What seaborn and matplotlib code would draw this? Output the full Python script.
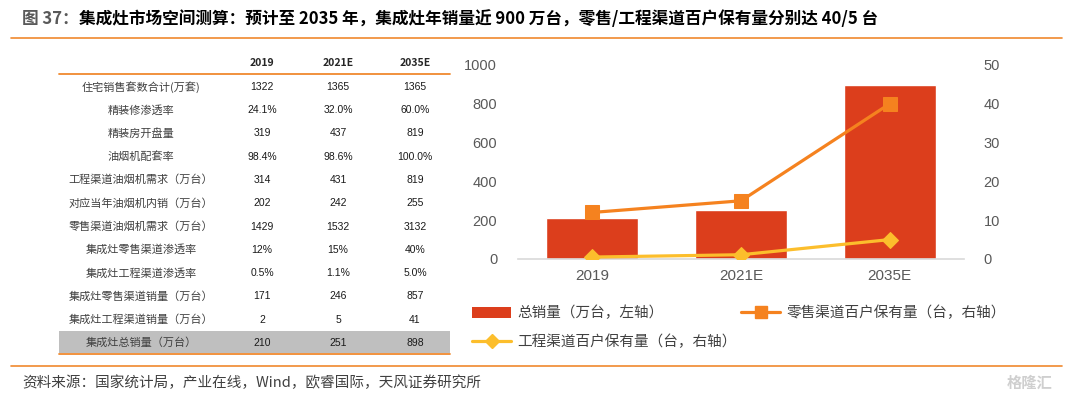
import numpy as np
import pandas as pd
import seaborn as sns
import matplotlib.pyplot as plt
from matplotlib.lines import Line2D
from matplotlib.patches import Patch, Rectangle

#%% Data

years = ['2019', '2021E', '2035E']
total_sales = [210, 251, 898]          # 总销量（万台，左轴）
retail_per100 = [12, 15, 40]           # 零售渠道百户保有量（台，右轴）
project_per100 = [0.5, 1.1, 5.0]       # 工程渠道百户保有量（台，右轴）

row_labels = ['住宅销售套数合计(万套)', '精装修渗透率', '精装房开盘量', '油烟机配套率',
              '工程渠道油烟机需求（万台）', '对应当年油烟机内销（万台）', '零售渠道油烟机需求（万台）',
              '集成灶零售渠道渗透率', '集成灶工程渠道渗透率', '集成灶零售渠道销量（万台）',
              '集成灶工程渠道销量（万台）', '集成灶总销量（万台）']
col_2019 = ['1322', '24.1%', '319', '98.4%', '314', '202', '1429', '12%', '0.5%', '171', '2', '210']
col_2021 = ['1365', '32.0%', '437', '98.6%', '431', '242', '1532', '15%', '1.1%', '246', '5', '251']
col_2035 = ['1365', '60.0%', '819', '100.0%', '819', '255', '3132', '40%', '5.0%', '857', '41', '898']

title_prefix = '图 37：'
title_main = '集成灶市场空间测算：预计至 2035 年，集成灶年销量近 900 万台，零售/工程渠道百户保有量分别达 40/5 台'
source_text = '资料来源：国家统计局，产业在线，Wind，欧睿国际，天风证券研究所'

legend_labels = ['总销量（万台，左轴）', '零售渠道百户保有量（台，右轴）', '工程渠道百户保有量（台，右轴）']

RED = '#DC3E1C'
ORANGE = '#F5821F'
YELLOW = '#FCBE2C'
LINE_ORANGE = '#F0892E'
GRAY_TXT = '#595959'

#%% Style

sns.set_theme(style='white')
plt.rcParams['font.family'] = ['Noto Sans CJK SC', 'DejaVu Sans']

W, H = 1071, 399
fig = plt.figure(figsize=(W / 100, H / 100), dpi=100)


def fx(x):
    return x / W


def fy(y):
    return 1 - y / H


def hline(y, x0, x1, color=LINE_ORANGE, lw=1.2):
    fig.add_artist(Line2D([fx(x0), fx(x1)], [fy(y), fy(y)], color=color, lw=lw,
                          transform=fig.transFigure))


#%% Title and frame lines

t1 = fig.text(fx(22), fy(19), title_prefix, fontsize=12, fontweight='bold', color=GRAY_TXT,
              va='center', ha='left')
renderer = fig.canvas.get_renderer()
bb = t1.get_window_extent(renderer=renderer)
fig.text(bb.x1 / fig.bbox.width, fy(19), title_main, fontsize=12, fontweight='bold',
         color='black', va='center', ha='left')
hline(38, 11, 1062)
hline(366, 11, 1062)
fig.text(fx(22), fy(383), source_text, fontsize=10.5, color='#404040', va='center', ha='left')
fig.text(fx(1030), fy(383), '格隆汇', fontsize=11, color='#CFCFCF', va='center', ha='center',
         fontweight='bold')

#%% Table

col_x = [262, 338, 415]
fig.text(fx(col_x[0]), fy(63), years[0], fontsize=7.5, fontweight='bold', ha='center', va='center')
fig.text(fx(col_x[1]), fy(63), years[1], fontsize=7.5, fontweight='bold', ha='center', va='center')
fig.text(fx(col_x[2]), fy(63), years[2], fontsize=7.5, fontweight='bold', ha='center', va='center')
hline(74, 59, 450, lw=1.3)

row_y0, row_dy = 86.7, 23.3
# shaded total row
fig.add_artist(Rectangle((fx(59), fy(353)), fx(450) - fx(59), fy(331) - fy(353),
                         transform=fig.transFigure, facecolor='#BFBFBF', edgecolor='none', zorder=0))
hline(353.5, 59, 450, lw=1.3)

for i, lab in enumerate(row_labels):
    y = row_y0 + i * row_dy
    fig.text(fx(141), fy(y), lab, fontsize=8, color='#404040', ha='center', va='center')
    for cx, col in zip(col_x, [col_2019, col_2021, col_2035]):
        fig.text(fx(cx), fy(y), col[i], fontsize=7.5, color='#1a1a1a', ha='center', va='center',
                 family=['Liberation Sans', 'DejaVu Sans'])

#%% Chart

ax = fig.add_axes([fx(518), fy(259), fx(964) - fx(518), fy(65) - fy(259)])
df = pd.DataFrame({'year': years, 'total': total_sales})
sns.barplot(data=df, x='year', y='total', color=RED, saturation=1, width=0.62, ax=ax)
ax.set_ylim(0, 1000)
ax.set_yticks(np.arange(0, 1001, 200))
ax.set_xlabel('')
ax.set_ylabel('')

ax2 = ax.twinx()
pos = np.arange(len(years))
sns.lineplot(x=pos, y=retail_per100, ax=ax2, color=ORANGE, lw=2.3, marker='s', markersize=10,
             markeredgecolor=ORANGE)
sns.lineplot(x=pos, y=project_per100, ax=ax2, color=YELLOW, lw=2.3, marker='D', markersize=8,
             markeredgecolor=YELLOW)
ax2.set_ylim(0, 50)
ax2.set_yticks(np.arange(0, 51, 10))
ax2.set_ylabel('')
ax.set_xlim(-0.5, 2.5)

for a in (ax, ax2):
    for s in a.spines.values():
        s.set_visible(False)
    a.tick_params(length=0, colors=GRAY_TXT)
    a.grid(False)
ax.spines['bottom'].set_visible(True)
ax.spines['bottom'].set_color('#D9D9D9')
ax.spines['bottom'].set_linewidth(1.2)

ax.tick_params(axis='y', pad=15, labelsize=10.5)
ax2.tick_params(axis='y', pad=14, labelsize=10.5)
ax.tick_params(axis='x', pad=7, labelsize=11)
for lab in ax.get_xticklabels() + ax.get_yticklabels() + ax2.get_yticklabels():
    lab.set_family(['Liberation Sans', 'DejaVu Sans'])

#%% Legend

handles = [Patch(facecolor=RED, edgecolor='none'),
           Line2D([], [], color=YELLOW, lw=2.3, marker='D', markersize=7),
           Line2D([], [], color=ORANGE, lw=2.3, marker='s', markersize=8)]
labels = [legend_labels[0], legend_labels[2], legend_labels[1]]
fig.legend(handles, labels, ncol=2, loc='upper left', bbox_to_anchor=(fx(472), fy(306)),
           frameon=False, fontsize=10.5, handlelength=2.7, handletextpad=0.4,
           columnspacing=0.3, labelspacing=0.95, borderpad=0, borderaxespad=0,
           labelcolor='#404040')

fig.savefig('out.png', dpi=100)
